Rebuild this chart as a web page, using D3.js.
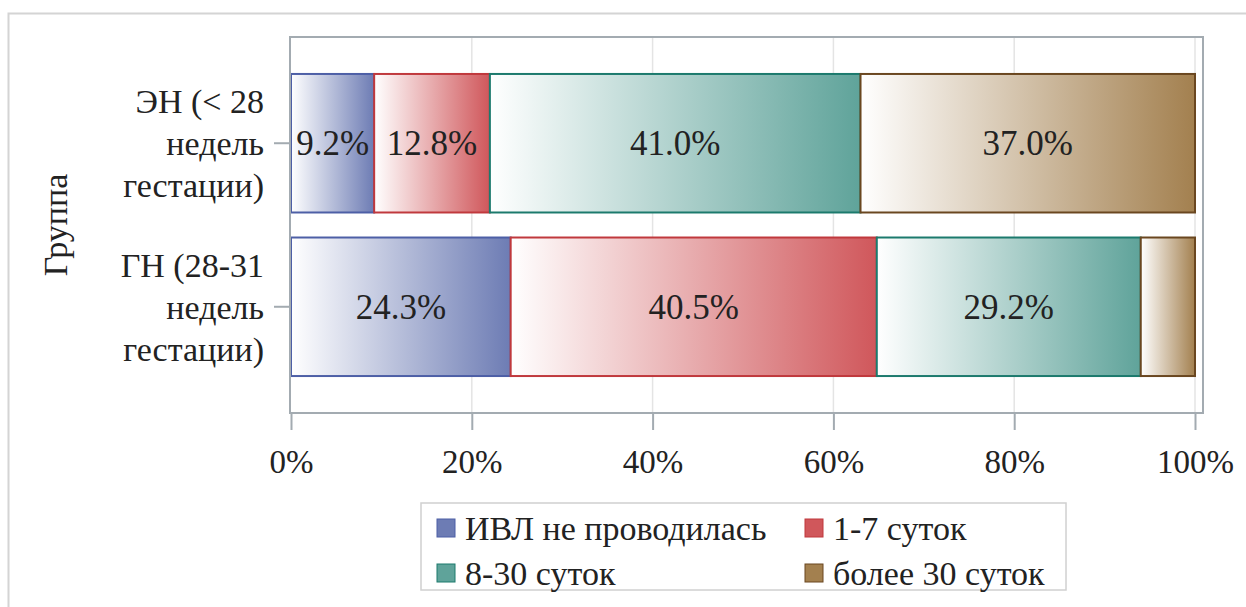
<!DOCTYPE html>
<html>
<head>
<meta charset="utf-8">
<script src="https://cdn.jsdelivr.net/npm/d3@7"></script>
<style>
  html, body { margin: 0; padding: 0; background: #fff; }
  svg { display: block; }
</style>
</head>
<body>
<svg id="chart" width="1246" height="607" style="font-family: 'Liberation Serif', serif">
  <text id="yTitle" font-family="Liberation Serif" font-size="34" fill="#222"
        text-anchor="middle" dy="0.35em" transform="translate(55,225) rotate(-90)">Группа</text>
</svg>
<script>
const FONT = "'Liberation Serif', serif";

// Groups (each label wrapped over three lines)
const groups = ["ЭН (< 28 недель гестации)", "ГН (28-31 недель гестации)"];
const groupLines = [["ЭН (< 28", "недель", "гестации)"], ["ГН (28-31", "недель", "гестации)"]];

// Duration of mechanical ventilation, percent of group
const seriesNames = ["ИВЛ не проводилась", "1-7 суток", "8-30 суток", "более 30 суток"];
const noVentilation = [9.2, 24.3];
const days1to7 = [12.8, 40.5];
const days8to30 = [41.0, 29.2];
const over30days = [37.0, 6.0];

const xTicks = [0, 20, 40, 60, 80, 100];

const fills = ["#6d7cb4", "#d0575b", "#5fa39a", "#a3804f"];
const strokes = ["#4d5fa6", "#c0393d", "#1c7a6d", "#6a4720"];

const seriesValues = [noVentilation, days1to7, days8to30, over30days];
const table = groups.map((g, i) => {
  const row = { group: g };
  seriesNames.forEach((s, j) => { row[s] = seriesValues[j][i]; });
  return row;
});
const stacked = d3.stack().keys(seriesNames)(table);

const svg = d3.select("#chart");
const plot = { left: 290, right: 1203, top: 37, bottom: 413 };

const x = d3.scaleLinear().domain([0, 100]).range([291, 1195]);
const y = d3.scaleBand().domain(groups).range([plot.top, plot.bottom])
  .paddingInner(0.153).paddingOuter(0.226);

// gradients: white on the left to the series colour on the right
const defs = svg.insert("defs", ":first-child");
seriesNames.forEach((s, j) => {
  const g = defs.append("linearGradient").attr("id", "grad" + j)
    .attr("x1", "0%").attr("x2", "100%").attr("y1", "0%").attr("y2", "0%");
  g.append("stop").attr("offset", "0%").attr("stop-color", "#ffffff");
  g.append("stop").attr("offset", "100%").attr("stop-color", fills[j]);
});

// outer frame
svg.append("path").attr("d", "M8.5,607 V13.5 H1246")
  .attr("fill", "none").attr("stroke", "#d4d4d4").attr("stroke-width", 2);

// grid lines
svg.append("g").selectAll("line").data(xTicks.filter(t => t > 0)).join("line")
  .attr("x1", d => x(d)).attr("x2", d => x(d))
  .attr("y1", plot.top).attr("y2", plot.bottom)
  .attr("stroke", "#e4e4e4").attr("stroke-width", 1.5);

// bars
const layers = svg.append("g").selectAll("g").data(stacked).join("g");
layers.each(function(layer, j) {
  const g = d3.select(this);
  g.selectAll("rect").data(layer).join("rect")
    .attr("x", d => x(d[0]))
    .attr("y", d => y(d.data.group))
    .attr("width", d => x(d[1]) - x(d[0]))
    .attr("height", y.bandwidth())
    .attr("fill", "url(#grad" + j + ")")
    .attr("stroke", strokes[j]).attr("stroke-width", 2);
});

// segment labels; a label is left out when it is wider than its segment
const labelSize = 35;
const approxCharWidth = 0.5;
layers.each(function(layer) {
  const g = d3.select(this);
  g.selectAll("text")
    .data(layer.filter(d => {
      const label = (d[1] - d[0]).toFixed(1) + "%";
      return label.length * labelSize * approxCharWidth < x(d[1]) - x(d[0]);
    }))
    .join("text")
    .attr("x", d => (x(d[0]) + x(d[1])) / 2)
    .attr("y", d => y(d.data.group) + y.bandwidth() / 2)
    .attr("dy", "0.35em")
    .attr("text-anchor", "middle")
    .style("font-family", FONT)
    .attr("font-size", labelSize)
    .attr("fill", "#222")
    .text(d => (d[1] - d[0]).toFixed(1) + "%");
});

// plot frame
svg.append("rect")
  .attr("x", plot.left).attr("y", plot.top)
  .attr("width", plot.right - plot.left).attr("height", plot.bottom - plot.top)
  .attr("fill", "none").attr("stroke", "#a3abb1").attr("stroke-width", 2);

// x axis
const xAxis = svg.append("g").attr("transform", `translate(0,${plot.bottom})`)
  .call(d3.axisBottom(x).tickValues(xTicks).tickFormat(d => d + "%").tickSize(17).tickPadding(20));
xAxis.attr("font-family", null).style("font-family", FONT);
xAxis.select(".domain").remove();
xAxis.selectAll(".tick line").attr("stroke", "#a3abb1").attr("stroke-width", 2);
xAxis.selectAll(".tick text").style("font-family", FONT).attr("font-size", 33).attr("fill", "#222");

// y axis ticks and wrapped labels
const yTicks = svg.append("g");
groups.forEach((g, i) => {
  const cy = y(g) + y.bandwidth() / 2;
  yTicks.append("line").attr("x1", plot.left - 16).attr("x2", plot.left)
    .attr("y1", cy).attr("y2", cy).attr("stroke", "#a3abb1").attr("stroke-width", 2);
  const t = yTicks.append("text").attr("text-anchor", "end")
    .style("font-family", FONT).attr("font-size", 34).attr("fill", "#222");
  groupLines[i].forEach((line, k) => {
    t.append("tspan").attr("x", 264).attr("y", cy + (k - 1) * 42).attr("dy", "0.35em").text(line);
  });
});

// legend
const legend = svg.append("g");
legend.append("rect").attr("x", 421).attr("y", 503).attr("width", 645).attr("height", 87)
  .attr("fill", "#fff").attr("stroke", "#d0d0d0").attr("stroke-width", 1.5);
const legendPos = [[437, 528], [805, 528], [437, 573], [805, 573]];
seriesNames.forEach((s, j) => {
  const [lx, ly] = legendPos[j];
  legend.append("rect").attr("x", lx).attr("y", ly - 9).attr("width", 18).attr("height", 18)
    .attr("fill", fills[j]).attr("stroke", strokes[j]).attr("stroke-width", 1);
  legend.append("text").attr("x", lx + 28).attr("y", ly).attr("dy", "0.35em")
    .style("font-family", FONT).attr("font-size", 34).attr("fill", "#222").text(s);
});
</script>
</body>
</html>
